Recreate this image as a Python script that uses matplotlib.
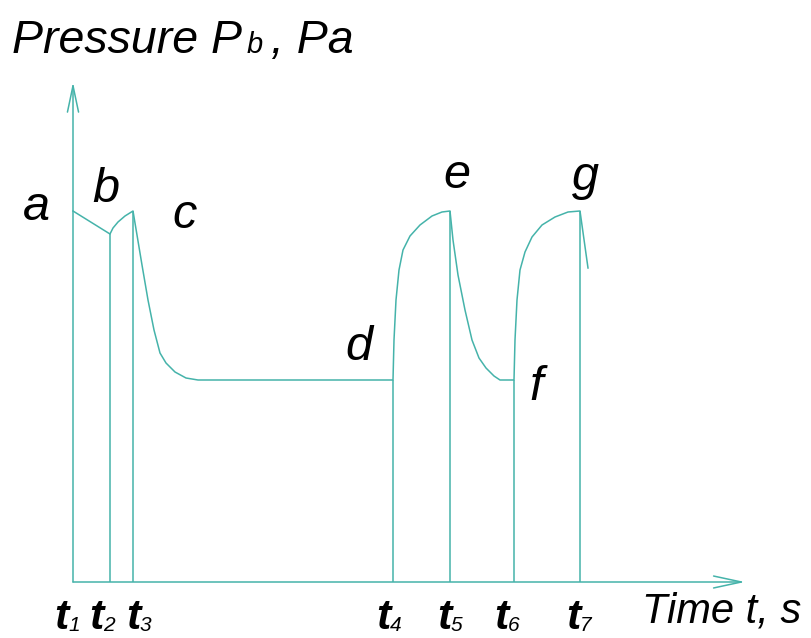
import matplotlib
matplotlib.use("Agg")
import matplotlib.pyplot as plt

# colour of every line in the sketch
LINE_COLOR = "#45b3aa"

# pressure curve P_b(t) (arbitrary units)
time_pts = [0, 37, 40, 45, 52, 60,
            64, 69, 75, 81, 87, 93, 102, 113, 125,
            320, 321, 323, 326, 330, 337, 347, 359, 369, 377,
            380, 385, 392, 399, 406, 413, 421, 427, 441,
            442, 444, 447, 452, 459, 469, 482, 495, 507,
            515]
pressure_pts = [371, 348, 354, 360, 366, 371,
                347, 317, 282, 252, 229, 219, 210, 204, 202,
                202, 242, 282, 312, 332, 346, 357, 366, 370, 371,
                342, 307, 272, 242, 224, 214, 206, 202, 202,
                242, 282, 312, 330, 345, 357, 365, 370, 371,
                314]

# time marks t1..t7 and the pressure where each vertical line stops
mark_times = [0, 37, 60, 320, 377, 441, 507]
mark_levels = [500, 348, 371, 202, 371, 202, 371]
mark_labels = ["1", "2", "3", "4", "5", "6", "7"]
label_left = [-19, 16, 53, 303, 364, 421, 493]   # where each "t" label starts

# point letters a..g
point_names = ["a", "b", "c", "d", "e", "f", "g"]
point_x = [-50, 19, 99, 272, 370, 456, 499]
point_y = [362, 380, 354, 222, 394, 182, 392]

fig = plt.figure(figsize=(8.11, 6.38), dpi=100, facecolor="white")
ax = fig.add_axes([0, 0, 1, 1])
ax.set_xlim(-73, 738)
ax.set_ylim(-56, 582)
ax.axis("off")

# axes with open arrow heads
ax.annotate("", xy=(0, 500), xytext=(0, 0),
            arrowprops=dict(arrowstyle="->,head_length=1.9,head_width=0.4",
                            color=LINE_COLOR, lw=1.1, shrinkA=0, shrinkB=0,
                            mutation_scale=10))
ax.annotate("", xy=(672, 0), xytext=(0, 0),
            arrowprops=dict(arrowstyle="->,head_length=2.0,head_width=0.43",
                            color=LINE_COLOR, lw=1.1, shrinkA=0, shrinkB=0,
                            mutation_scale=10))

ax.plot(time_pts, pressure_pts, color=LINE_COLOR, lw=1.1)
ax.vlines(mark_times[1:], 0, mark_levels[1:], color=LINE_COLOR, lw=1.1)

for name, x, y in zip(point_names, point_x, point_y):
    ax.text(x, y, name, fontsize=35, family="Liberation Sans", style="italic",
            ha="left", va="baseline")

for x, lab in zip(label_left, mark_labels):
    ax.text(x, -47, "t", fontsize=31, family="Liberation Sans",
            style="italic", weight="bold", ha="left", va="baseline")
    ax.text(x + 14, -49, lab, fontsize=15, family="Liberation Sans",
            style="italic", ha="left", va="baseline")

ax.text(569, -41, "Time t, s", fontsize=30, family="Liberation Sans",
        style="italic", ha="left", va="baseline")

# y axis title: "Pressure P" + small "b" + " , Pa"
ax.text(-61, 529, "Pressure P", fontsize=33.5, family="Liberation Sans",
        style="italic", ha="left", va="baseline")
ax.text(174, 529, "b", fontsize=21, family="Liberation Sans",
        style="italic", ha="left", va="baseline")
ax.text(198, 529, ", Pa", fontsize=33.5, family="Liberation Sans",
        style="italic", ha="left", va="baseline")

fig.savefig("out.png", dpi=100, facecolor="white")
